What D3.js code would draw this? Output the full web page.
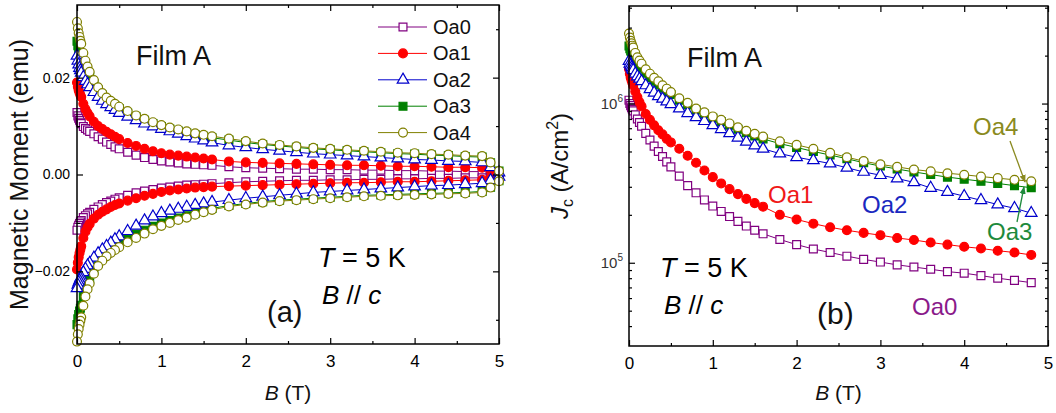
<!DOCTYPE html>
<html>
<head>
<meta charset="utf-8">
<script src="https://cdnjs.cloudflare.com/ajax/libs/d3/7.8.5/d3.min.js"></script>
<style>
body{margin:0;background:#fff;}
svg text{font-family:"Liberation Sans",Arial,sans-serif;}
</style>
</head>
<body>
<script>
// field steps (T), shared by both panels; the loops in (a) go on to 5 T
var fieldB = [0,0.01,0.02,0.03,0.04,0.05,0.075,0.1,0.125,0.15,0.2,0.25,0.3,0.35,0.4,0.45,0.5,
  0.6,0.7,0.8,0.9,1.0,1.1,1.2,1.3,1.4,1.5,1.6,
  1.8,2.0,2.2,2.4,2.6,2.8,3.0,3.2,3.4,3.6,3.8,4.0,4.2,4.4,4.6,4.8];
var loopEnd = [4.9,5.0];

var names = ["Oa0","Oa1","Oa2","Oa3","Oa4"];
var colors = ["#800080","#ff0000","#0000cc","#008000","#808000"];
var shapes = ["square","circle","triangle","square","circle"];
var filled = [false,true,false,true,false];

// (a) magnetic moment, increasing-field branch (emu)
var mUp0 = [0.0128,0.0121,0.0116,0.0112,0.0108,0.0105,0.0099,0.0095,0.0092,0.0089,0.0084,0.0078,0.0073,0.0067,0.0062,0.0057,0.0053,
  0.0046,0.004,0.0035,0.0031,0.0028,0.0026,0.0024,0.0022,0.0021,0.002,0.0019,
  0.0016,0.0014,0.0013,0.0012,0.0011,0.0011,0.001,0.001,0.0009,0.0009,0.0008,0.0008,0.0007,0.0007,0.0006,0.0006,
  0.0004,0.0001];
var mUp1 = [0.019,0.0181,0.0174,0.0169,0.0164,0.016,0.0146,0.0135,0.0127,0.012,0.0109,0.01,0.0094,0.0088,0.0083,0.0078,0.0073,
  0.0065,0.0059,0.0053,0.0048,0.0044,0.0041,0.0039,0.0037,0.0035,0.0033,0.0031,
  0.0027,0.0025,0.0024,0.0023,0.0022,0.0021,0.002,0.0019,0.0019,0.0018,0.0017,0.0017,0.0016,0.0015,0.0015,0.0014,
  0.0009,0.0002];
var mUp2 = [0.0245,0.0235,0.0227,0.022,0.0215,0.021,0.0201,0.0193,0.0186,0.018,0.017,0.016,0.0152,0.0145,0.0139,0.0133,0.0127,
  0.0119,0.0112,0.0105,0.0099,0.0094,0.0089,0.0084,0.0079,0.0074,0.007,0.0066,
  0.006,0.0056,0.0052,0.0049,0.0046,0.0043,0.0041,0.0039,0.0037,0.0035,0.0033,0.0031,0.003,0.0028,0.0027,0.0025,
  0.0015,0.0004];
var mUp3 = [0.0275,0.0266,0.0259,0.0254,0.0249,0.0245,0.0232,0.0222,0.0212,0.0203,0.0188,0.0175,0.0164,0.0155,0.0148,0.0142,0.0136,
  0.0127,0.0119,0.0112,0.0105,0.0099,0.0094,0.009,0.0086,0.0082,0.0079,0.0076,
  0.0071,0.0066,0.0062,0.0059,0.0056,0.0053,0.0051,0.0049,0.0047,0.0045,0.0043,0.0042,0.004,0.0039,0.0037,0.0036,
  0.0024,0.0007];
var mUp4 = [0.0315,0.0302,0.0292,0.0284,0.0276,0.027,0.0251,0.0235,0.0223,0.0212,0.0195,0.018,0.0168,0.0159,0.0152,0.0146,0.014,
  0.0131,0.0122,0.0115,0.0108,0.0102,0.0097,0.0093,0.0089,0.0085,0.0082,0.0079,
  0.0074,0.0069,0.0064,0.0061,0.0058,0.0055,0.0053,0.0051,0.0049,0.0047,0.0045,0.0044,0.0042,0.0041,0.0039,0.0038,
  0.0025,0.0007];

// (a) decreasing-field branch (emu)
var mDn0 = [-0.0115,-0.0109,-0.0105,-0.0101,-0.0098,-0.0095,-0.0089,-0.0085,-0.0081,-0.0078,-0.0072,-0.0067,-0.0062,-0.0058,-0.0055,-0.0051,-0.0048,
  -0.0043,-0.0038,-0.0034,-0.0031,-0.0028,-0.0026,-0.0024,-0.0022,-0.0021,-0.002,-0.0019,
  -0.0017,-0.0015,-0.0014,-0.0013,-0.0012,-0.0012,-0.0011,-0.0011,-0.001,-0.001,-0.0009,-0.0009,-0.0008,-0.0008,-0.0007,-0.0007,
  -0.0005,-0.0002];
var mDn1 = [-0.0196,-0.0182,-0.0171,-0.0162,-0.0155,-0.0148,-0.0131,-0.0118,-0.0109,-0.0102,-0.0091,-0.0083,-0.0077,-0.0072,-0.0067,-0.0063,-0.006,
  -0.0054,-0.0049,-0.0044,-0.004,-0.0036,-0.0033,-0.0031,-0.0029,-0.0027,-0.0026,-0.0025,
  -0.0024,-0.0023,-0.0022,-0.0021,-0.002,-0.0019,-0.0018,-0.0017,-0.0017,-0.0016,-0.0015,-0.0015,-0.0014,-0.0013,-0.0012,-0.0011,
  -0.0007,-0.0002];
var mDn2 = [-0.0235,-0.0228,-0.0223,-0.0219,-0.0215,-0.0212,-0.0202,-0.0195,-0.0188,-0.0183,-0.0172,-0.0163,-0.0155,-0.0148,-0.0141,-0.0134,-0.0128,
  -0.0117,-0.0106,-0.0095,-0.0087,-0.008,-0.0075,-0.0071,-0.0067,-0.0063,-0.006,-0.0057,
  -0.0053,-0.0049,-0.0046,-0.0043,-0.004,-0.0037,-0.0035,-0.0033,-0.0031,-0.0029,-0.0027,-0.0025,-0.0023,-0.0022,-0.002,-0.0018,
  -0.0012,-0.0005];
var mDn3 = [-0.031,-0.0298,-0.0289,-0.0282,-0.0276,-0.027,-0.0252,-0.0238,-0.0225,-0.0215,-0.0197,-0.0183,-0.0172,-0.0163,-0.0155,-0.0148,-0.0142,
  -0.0132,-0.0123,-0.0115,-0.0107,-0.01,-0.0095,-0.009,-0.0085,-0.008,-0.0075,-0.007,
  -0.0064,-0.006,-0.0056,-0.0053,-0.0051,-0.0049,-0.0047,-0.0045,-0.0043,-0.0042,-0.0041,-0.004,-0.0039,-0.0038,-0.0037,-0.0035,
  -0.0026,-0.0013];
var mDn4 = [-0.0345,-0.033,-0.0319,-0.031,-0.0302,-0.0295,-0.0271,-0.0252,-0.0237,-0.0225,-0.0205,-0.0189,-0.0178,-0.0169,-0.0162,-0.0156,-0.015,
  -0.014,-0.0131,-0.0122,-0.0113,-0.0106,-0.01,-0.0094,-0.0089,-0.0083,-0.0078,-0.0073,
  -0.0066,-0.0062,-0.0058,-0.0055,-0.0053,-0.0051,-0.0049,-0.0047,-0.0045,-0.0044,-0.0043,-0.0042,-0.0041,-0.004,-0.0039,-0.0037,
  -0.0027,-0.0014];

// (b) critical current density (A/cm2)
var jc0 = [1.05e6,1.0e6,9.7e5,9.4e5,9.2e5,9.0e5,8.5e5,8.0e5,7.6e5,7.2e5,6.5e5,5.9e5,5.4e5,5.0e5,4.65e5,4.3e5,4.0e5,
  3.5e5,3.05e5,2.75e5,2.48e5,2.27e5,2.1e5,1.95e5,1.82e5,1.7e5,1.6e5,1.52e5,
  1.4e5,1.3e5,1.22e5,1.16e5,1.1e5,1.05e5,1.01e5,9.7e4,9.4e4,9.1e4,8.8e4,8.6e4,8.3e4,8.0e4,7.75e4,7.5e4];
var jc1 = [1.65e6,1.54e6,1.46e6,1.4e6,1.35e6,1.3e6,1.19e6,1.1e6,1.02e6,9.6e5,8.6e5,7.9e5,7.3e5,6.8e5,6.4e5,6.0e5,5.7e5,
  5.2e5,4.7e5,4.25e5,3.8e5,3.45e5,3.15e5,2.9e5,2.7e5,2.52e5,2.37e5,2.25e5,
  2.0e5,1.87e5,1.76e5,1.67e5,1.6e5,1.54e5,1.49e5,1.43e5,1.39e5,1.34e5,1.3e5,1.26e5,1.23e5,1.19e5,1.16e5,1.12e5];
var jc2 = [1.85e6,1.78e6,1.73e6,1.69e6,1.65e6,1.62e6,1.54e6,1.48e6,1.43e6,1.38e6,1.3e6,1.23e6,1.17e6,1.11e6,1.07e6,1.03e6,9.9e5,
  9.3e5,8.7e5,8.2e5,7.75e5,7.3e5,6.9e5,6.5e5,6.1e5,5.75e5,5.45e5,5.2e5,
  4.85e5,4.6e5,4.4e5,4.2e5,3.95e5,3.72e5,3.55e5,3.38e5,3.2e5,2.95e5,2.78e5,2.62e5,2.47e5,2.32e5,2.2e5,2.05e5];
var jc3 = [2.3e6,2.21e6,2.14e6,2.09e6,2.04e6,2.0e6,1.89e6,1.8e6,1.73e6,1.67e6,1.55e6,1.46e6,1.38e6,1.31e6,1.25e6,1.19e6,1.14e6,
  1.05e6,9.8e5,9.1e5,8.6e5,8.1e5,7.7e5,7.3e5,6.9e5,6.55e5,6.25e5,6.0e5,
  5.6e5,5.3e5,5.0e5,4.75e5,4.5e5,4.25e5,4.05e5,3.88e5,3.72e5,3.58e5,3.45e5,3.35e5,3.25e5,3.15e5,3.05e5,2.96e5];
var jc4 = [2.75e6,2.6e6,2.48e6,2.39e6,2.31e6,2.25e6,2.08e6,1.95e6,1.86e6,1.78e6,1.64e6,1.54e6,1.45e6,1.38e6,1.3e6,1.24e6,1.18e6,
  1.08e6,1.01e6,9.3e5,8.8e5,8.3e5,7.9e5,7.5e5,7.1e5,6.75e5,6.45e5,6.2e5,
  5.8e5,5.5e5,5.2e5,4.9e5,4.6e5,4.35e5,4.15e5,4.0e5,3.85e5,3.75e5,3.65e5,3.57e5,3.48e5,3.4e5,3.32e5,3.25e5];

var xMajor = [0,1,2,3,4,5];
var xMinor = [0.5,1.5,2.5,3.5,4.5];
var mMajor = [-0.02,0,0.02];
var mMinor = [-0.03,-0.01,0.01,0.03];
var jMajor = [1e5,1e6];
var jMinor = [4e4,5e4,6e4,7e4,8e4,9e4,2e5,3e5,4e5,5e5,6e5,7e5,8e5,9e5,2e6,3e6,4e6];

var mUp = [mUp0,mUp1,mUp2,mUp3,mUp4];
var mDn = [mDn0,mDn1,mDn2,mDn3,mDn4];
var jcAll = [jc0,jc1,jc2,jc3,jc4];
var drawOrder = [0,1,3,2,4];

var svg = d3.select("body").append("svg").attr("width",1056).attr("height",413);
var defs = svg.append("defs");

function symbolPath(i){
  var t = shapes[i]==="square" ? d3.symbolSquare : shapes[i]==="circle" ? d3.symbolCircle : d3.symbolTriangle;
  var s = shapes[i]==="triangle" ? 58 : 62;
  return d3.symbol().type(t).size(s)();
}

function drawMarks(g, pts, i){
  g.selectAll(null).data(pts).enter().append("path")
    .attr("d", symbolPath(i))
    .attr("transform", function(d){ return "translate("+d[0]+","+d[1]+")"; })
    .attr("fill", filled[i] ? colors[i] : "#fff")
    .attr("stroke", colors[i]).attr("stroke-width",1.2);
}

function frame(g, x, y, box, yMaj, yMin, yFmt){
  function strip(a){ a.select(".domain").remove(); a.attr("font-size",17).attr("fill","#222"); a.selectAll("line").attr("stroke","#000").attr("stroke-width",1.2); }
  g.append("g").attr("transform","translate(0,"+box.b+")")
    .call(d3.axisBottom(x).tickValues(xMajor).tickSize(-6).tickPadding(11).tickFormat(d3.format("d"))).call(strip);
  g.append("g").attr("transform","translate(0,"+box.b+")")
    .call(d3.axisBottom(x).tickValues(xMinor).tickSize(-3).tickFormat("")).call(strip);
  g.append("g").attr("transform","translate(0,"+box.t+")")
    .call(d3.axisTop(x).tickValues(xMajor).tickSize(-6).tickFormat("")).call(strip);
  g.append("g").attr("transform","translate(0,"+box.t+")")
    .call(d3.axisTop(x).tickValues(xMinor).tickSize(-3).tickFormat("")).call(strip);
  var yl = g.append("g").attr("transform","translate("+box.l+",0)")
    .call(d3.axisLeft(y).tickValues(yMaj).tickSize(-6).tickPadding(7).tickFormat(yFmt)).call(strip);
  yl.attr("font-size",14).attr("fill","#333");
  g.append("g").attr("transform","translate("+box.l+",0)")
    .call(d3.axisLeft(y).tickValues(yMin).tickSize(-3).tickFormat("")).call(strip);
  g.append("g").attr("transform","translate("+box.r+",0)")
    .call(d3.axisRight(y).tickValues(yMaj).tickSize(-6).tickFormat("")).call(strip);
  g.append("g").attr("transform","translate("+box.r+",0)")
    .call(d3.axisRight(y).tickValues(yMin).tickSize(-3).tickFormat("")).call(strip);
  g.append("rect").attr("x",box.l).attr("y",box.t).attr("width",box.r-box.l).attr("height",box.b-box.t)
    .attr("fill","none").attr("stroke","#000").attr("stroke-width",1.5);
}

function bTitle(g, cx){
  var t = g.append("text").attr("x",cx).attr("y",400).attr("text-anchor","middle").attr("font-size",21).attr("fill","#111");
  t.append("tspan").attr("font-style","italic").text("B");
  t.append("tspan").text(" (T)");
}

function cond(g, x, y1, y2, fs){
  var t = g.append("text").attr("x",x).attr("y",y1).attr("font-size",fs).attr("fill","#000");
  t.append("tspan").attr("font-style","italic").text("T");
  t.append("tspan").text(" = 5 K");
  var b = g.append("text").attr("x",x+4).attr("y",y2).attr("font-size",fs-1).attr("fill","#000");
  b.append("tspan").attr("font-style","italic").text("B");
  b.append("tspan").text(" // ");
  b.append("tspan").attr("font-style","italic").text("c");
}

// ---------- panel (a) ----------
var boxA = {l:77, r:499, t:5, b:344};
var xA = d3.scaleLinear().domain([0,5]).range([boxA.l,boxA.r]);
var yA = d3.scaleLinear().domain([-0.035,0.035]).range([boxA.b,boxA.t]);
var gA = svg.append("g");
var loopB = fieldB.concat(loopEnd);
var lineA = d3.line().x(function(d){return xA(d[0]);}).y(function(d){return yA(d[1]);});

drawOrder.forEach(function(i){
  var up = loopB.map(function(b,k){ return [b, mUp[i][k]]; });
  var dn = loopB.map(function(b,k){ return [b, mDn[i][k]]; }).reverse();
  var pts = up.concat(dn);
  gA.append("path").attr("d",lineA(pts)).attr("fill","none").attr("stroke",colors[i]).attr("stroke-width",1);
  drawMarks(gA, pts.map(function(d){ return [xA(d[0]), yA(d[1])]; }), i);
});
frame(gA, xA, yA, boxA, mMajor, mMinor, d3.format(".2f"));
bTitle(gA, (boxA.l+boxA.r)/2);
gA.append("text").attr("transform","translate(28,"+((boxA.t+boxA.b)/2)+") rotate(-90)")
  .attr("text-anchor","middle").attr("font-size",25).attr("fill","#111").text("Magnetic Moment (emu)");
gA.append("text").attr("x",136).attr("y",65).attr("font-size",27).attr("fill","#111").text("Film A");
cond(gA, 318, 267, 304, 27);
gA.append("text").attr("x",267).attr("y",322).attr("font-size",29).attr("fill","#111").text("(a)");

// legend
var leg = gA.append("g");
names.forEach(function(n,i){
  var yy = 27 + i*26.4;
  leg.append("line").attr("x1",378).attr("x2",427).attr("y1",yy).attr("y2",yy).attr("stroke",colors[i]).attr("stroke-width",1);
  drawMarks(leg, [[403,yy]], i);
  leg.append("text").attr("x",433).attr("y",yy+7).attr("font-size",20).attr("fill","#111").text(n);
});

// ---------- panel (b) ----------
var boxB = {l:629, r:1048, t:6, b:346};
var xB = d3.scaleLinear().domain([0,5]).range([boxB.l,boxB.r]);
var yB = d3.scaleLog().domain([3e4,4.1e6]).range([boxB.b,boxB.t]);
var gB = svg.append("g");
var lineB = d3.line().x(function(d){return xB(d[0]);}).y(function(d){return yB(d[1]);});

drawOrder.forEach(function(i){
  var pts = fieldB.map(function(b,k){ return [b, jcAll[i][k]]; });
  gB.append("path").attr("d",lineB(pts)).attr("fill","none").attr("stroke",colors[i]).attr("stroke-width",1);
  drawMarks(gB, pts.map(function(d){ return [xB(d[0]), yB(d[1])]; }), i);
});
frame(gB, xB, yB, boxB, jMajor, jMinor, function(){ return ""; });
jMajor.forEach(function(v){
  var t = gB.append("text").attr("x",boxB.l-6).attr("y",yB(v)+5).attr("text-anchor","end").attr("font-size",15).attr("fill","#333");
  t.append("tspan").text("10");
  t.append("tspan").attr("font-size",10).attr("dy",-7).text(Math.round(Math.log10(v)));
});
bTitle(gB, (boxB.l+boxB.r)/2);
var jt = gB.append("text").attr("transform","translate(568,166) rotate(-90)")
  .attr("text-anchor","middle").attr("font-size",24).attr("fill","#111");
jt.append("tspan").attr("font-style","italic").text("J");
jt.append("tspan").attr("font-size",16).attr("dy",5).text("c");
jt.append("tspan").attr("dy",-5).text(" (A/cm");
jt.append("tspan").attr("font-size",16).attr("dy",-10).text("2");
jt.append("tspan").attr("dy",10).text(")");
gB.append("text").attr("x",687).attr("y",67).attr("font-size",27).attr("fill","#111").text("Film A");
cond(gB, 660, 277, 314, 27);
gB.append("text").attr("x",817).attr("y",324).attr("font-size",30).attr("fill","#111").text("(b)");

// curve labels
var labCol = ["#8a1a8a","#f01818","#1a28c0","#1e8a3c","#8a8a20"];
var labPos = [[912,315],[768,203],[862,213],[987,240],[973,135]];
names.forEach(function(n,i){
  gB.append("text").attr("x",labPos[i][0]).attr("y",labPos[i][1]).attr("font-size",24).attr("fill",labCol[i]).text(n);
});
function arrow(id, col, x1, y1, x2, y2){
  defs.append("marker").attr("id",id).attr("viewBox","0 0 10 10").attr("refX",9).attr("refY",5)
    .attr("markerWidth",6).attr("markerHeight",6).attr("orient","auto")
    .append("path").attr("d","M0,1 L10,5 L0,9 z").attr("fill",col);
  gB.append("line").attr("x1",x1).attr("y1",y1).attr("x2",x2).attr("y2",y2)
    .attr("stroke",col).attr("stroke-width",1.3).attr("marker-end","url(#"+id+")");
}
arrow("arOa4", labCol[4], 1010, 141, 1025, 182);
arrow("arOa3", labCol[3], 1017, 222, 1024, 187);
</script>
</body>
</html>
